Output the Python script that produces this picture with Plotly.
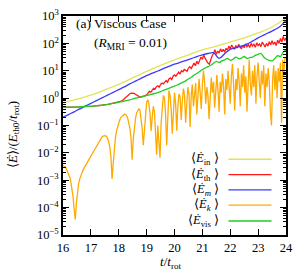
import numpy as np
import plotly.graph_objects as go

# ---- data (values stored as log10 of <E_dot>/(E_th0/t_rot)) ----
t_in = np.linspace(16, 24, 17)          # step 0.5
e_in_log10 = [-0.17, -0.04, 0.11, 0.3, 0.5, 0.74, 0.98, 1.2, 1.4, 1.58, 1.76, 1.9,
              2.05, 2.2, 2.38, 2.6, 2.92]

t_m = np.linspace(16, 24, 41)           # step 0.2
e_m_log10 = [-0.70, -0.60, -0.50, -0.39, -0.29, -0.19, -0.09, 0.01, 0.11, 0.21,
             0.31, 0.41, 0.52, 0.62, 0.72, 0.82, 0.91, 0.99, 1.08, 1.16,
             1.24, 1.31, 1.37, 1.44, 1.52, 1.58, 1.63, 1.66, 1.45, 1.62,
             1.78, 1.84, 1.9, 1.97, 2.08, 2.2, 2.3, 2.4, 2.5, 2.63, 2.84]

t_vis = np.linspace(16, 24, 81)         # step 0.1
e_vis_log10 = [-0.33, -0.33, -0.33, -0.33, -0.33, -0.32, -0.32, -0.31, -0.31, -0.30,
               -0.30, -0.29, -0.28, -0.27, -0.26, -0.25, -0.23, -0.21, -0.19, -0.17,
               -0.15, -0.13, -0.11, -0.08, -0.06, -0.03, 0.0, 0.02, 0.05, 0.07,
               0.1, 0.12, 0.15, 0.17, 0.2, 0.24, 0.28, 0.32, 0.36, 0.4,
               0.44, 0.48, 0.53, 0.58, 0.63, 0.7, 0.76, 0.84, 0.9, 0.97,
               1.04, 1.1, 1.15, 1.2, 1.27, 1.34, 1.3, 1.36, 1.4, 1.45,
               1.38, 1.42, 1.5, 1.44, 1.46, 1.52, 1.45, 1.48, 1.5, 1.56,
               1.6, 1.63, 1.5, 1.42, 1.38, 1.36, 1.45, 1.55, 1.52, 1.68, 1.76]

t_th = np.linspace(16, 24, 161)         # step 0.05
e_th_log10 = [-0.34, -0.34, -0.34, -0.34, -0.34, -0.33, -0.33, -0.33, -0.33, -0.33,
              -0.32, -0.32, -0.32, -0.31, -0.31, -0.31, -0.31, -0.30, -0.30, -0.30,
              -0.30, -0.29, -0.29, -0.28, -0.28, -0.27, -0.27, -0.26, -0.26, -0.25,
              -0.25, -0.24, -0.23, -0.22, -0.21, -0.20, -0.19, -0.18, -0.17, -0.16,
              -0.15, -0.13, -0.11, -0.07, -0.02, 0.04, 0.09, 0.13, 0.16, 0.18,
              0.18, 0.17, 0.14, 0.1, 0.07, 0.05, 0.04, 0.05, 0.07, 0.09,
              0.12, 0.18, 0.25, 0.22, 0.3, 0.36, 0.33, 0.42, 0.45, 0.4,
              0.5, 0.55, 0.52, 0.6, 0.64, 0.58, 0.7, 0.74, 0.68, 0.8,
              0.85, 0.8, 0.9, 0.95, 0.88, 1.0, 0.96, 1.05, 1.02, 0.98,
              1.1, 1.15, 1.08, 1.2, 1.28, 1.18, 1.35, 1.25, 1.4, 1.5,
              1.42, 1.58, 1.45, 1.35, 1.28, 1.24, 1.4, 1.55, 1.62, 1.77,
              1.6, 1.72, 1.65, 1.8, 1.7, 1.78, 1.68, 1.82, 1.75, 1.9,
              1.8, 1.94, 1.85, 1.78, 1.92, 1.83, 1.96, 1.86, 1.8, 1.93,
              1.84, 1.98, 1.88, 1.95, 1.85, 2.0, 1.9, 1.97, 1.86, 2.02,
              1.92, 1.98, 1.88, 2.05, 1.95, 1.87, 2.0, 1.9, 2.06, 1.95,
              2.1, 1.96, 2.05, 1.92, 2.12, 2.0, 2.18, 2.05, 2.25, 2.1, 2.2]

t_k = np.linspace(16, 24, 201)          # step 0.04
e_k_log10 = [-2.45, -2.48, -2.52, -2.58, -2.66, -2.76, -2.88, -3.05, -3.28, -3.6,
             -4.05, -4.43, -3.85, -3.4, -3.12, -2.95, -2.82, -2.72, -2.63, -2.55,
             -2.47, -2.4, -2.33, -2.26, -2.19, -2.12, -2.05, -1.98, -1.9, -1.82,
             -1.74, -1.66, -1.58, -1.52, -1.46, -1.42, -1.39, -1.37, -1.37, -1.4,
             -1.47, -1.6, -1.8, -2.15, -2.95, -2.4, -1.8, -1.45, -1.2, -1.02,
             -0.88, -0.78, -0.7, -0.65, -0.61, -0.59, -0.6, -0.64, -0.73, -0.88,
             -1.1, -1.45, -2.25, -1.5, -1.05, -0.75, -0.55, -0.42, -0.38, -0.45,
             -0.7, -1.1, -1.72, -1.1, -0.5, -0.15, -0.06, -0.2, -0.55, -1.2,
             -0.7, -0.3, -0.5, -1.3, -2.07, -1.0, -1.6, -2.18, -0.9, -0.2,
             0.1, 0.0, -0.6, -1.72, -0.5, 0.28, 0.1, -0.4, -1.3, -0.3,
             0.2, -0.2, -1.19, -0.3, 0.15, 0.05, -0.8, -0.1, 0.35, 0.1,
             -0.9, -0.2, 0.4, 0.15, -1.05, 0.1, 0.5, -0.3, 0.2, 0.55,
             -0.6, 0.3, 0.71, 0.2, -0.4, 0.5, 1.0, 0.6, -0.2, 0.4,
             0.1, -0.77, 0.3, 0.75, 0.2, 0.6, -0.35, 0.5, 0.85, 0.3,
             -0.5, 0.6, 0.2, 0.9, 0.45, -0.6, 0.7, 0.3, 1.0, 0.4,
             -0.2, 0.8, 1.25, 0.5, -0.45, 0.7, 0.3, 1.1, 0.6, -0.3,
             0.9, 0.4, 1.2, 0.2, 0.8, -0.5, 0.9, 1.4, 0.5, 0.1,
             1.0, 0.4, 1.2, -0.2, 0.8, 1.3, 0.6, 0.0, 1.0, 0.5,
             1.2, -0.3, 0.9, 0.4, 1.1, 0.6, -0.5, -1.0, 0.7, 1.2,
             0.3, 1.0, 0.0, 1.1, 0.6, 1.3, -0.9, 1.4, 0.8, 1.5, 1.45]

y_tick_vals = [1e-5, 1e-4, 1e-3, 1e-2, 1e-1, 1e0, 1e1, 1e2, 1e3]
y_tick_text = ["10<sup>−5</sup>", "10<sup>−4</sup>", "10<sup>−3</sup>", "10<sup>−2</sup>",
               "10<sup>−1</sup>", "10<sup>0</sup>", "10<sup>1</sup>", "10<sup>2</sup>",
               "10<sup>3</sup>"]
x_tick_vals = [16, 17, 18, 19, 20, 21, 22, 23, 24]

series = [
    ("in", t_in, e_in_log10, "#e2e25a", "spline"),
    ("th", t_th, e_th_log10, "#ff1a1a", "linear"),
    ("m", t_m, e_m_log10, "#3a3aff", "spline"),
    ("k", t_k, e_k_log10, "#ffaa00", "linear"),
    ("vis", t_vis, e_vis_log10, "#22cc22", "spline"),
]
legend_labels = {
    "in": "⟨<i>Ė</i><sub>in</sub> ⟩",
    "th": "⟨<i>Ė</i><sub>th</sub> ⟩",
    "m": "⟨<i>Ė</i><sub><i>m</i></sub> ⟩",
    "k": "⟨<i>Ė</i><sub><i>k</i></sub> ⟩",
    "vis": "⟨<i>Ė</i><sub>vis</sub> ⟩",
}

FONT = "Liberation Serif"
fig = go.Figure()
for name, t, lv, col, shape in series:
    fig.add_trace(go.Scatter(x=t, y=10 ** np.array(lv), mode="lines",
                             line=dict(color=col, width=1.3, shape=shape),
                             showlegend=False, name=name))

# gnuplot-style key (text left, line sample right)
leg_y = [0.346, 0.276, 0.206, 0.136, 0.064]
for (name, _, _, col, _), yy in zip(series, leg_y):
    fig.add_annotation(x=0.71, y=yy, xref="paper", yref="paper", text=legend_labels[name],
                       showarrow=False, xanchor="right", yanchor="middle",
                       font=dict(family=FONT, size=12.5, color="black"))
    fig.add_shape(type="line", xref="paper", yref="paper", x0=0.742, x1=0.935,
                  y0=yy, y1=yy, line=dict(color=col, width=1.3))

fig.add_annotation(x=0.05, y=0.965, xref="paper", yref="paper", text="(a) Viscous Case",
                   showarrow=False, xanchor="left", yanchor="middle",
                   font=dict(family=FONT, size=13.5, color="black"))
fig.add_annotation(x=0.13, y=0.875, xref="paper", yref="paper",
                   text="(<i>R</i><sub>MRI</sub> = 0.01)",
                   showarrow=False, xanchor="left", yanchor="middle",
                   font=dict(family=FONT, size=13.5, color="black"))
fig.add_annotation(x=-0.225, y=0.46, xref="paper", yref="paper", textangle=-90,
                   text="⟨<i>Ė</i>⟩/(<i>E</i><sub>th0</sub>/<i>t</i><sub>rot</sub>)",
                   showarrow=False, xanchor="center", yanchor="middle",
                   font=dict(family=FONT, size=13, color="black"))
fig.add_annotation(x=0.48, y=-0.125, xref="paper", yref="paper",
                   text="<i>t</i>/<i>t</i><sub>rot</sub>",
                   showarrow=False, xanchor="center", yanchor="middle",
                   font=dict(family=FONT, size=13, color="black"))

axis_common = dict(showline=True, linecolor="black", linewidth=1.5, mirror="ticks",
                   ticks="inside", tickcolor="black", showgrid=False, zeroline=False,
                   tickfont=dict(family=FONT, size=12.5, color="black"))
fig.update_xaxes(range=[16, 24], tickvals=x_tick_vals, ticklen=6, **axis_common)
fig.update_yaxes(type="log", range=[-5, 3], tickvals=y_tick_vals, ticktext=y_tick_text,
                 ticklen=6,
                 minor=dict(ticks="inside", ticklen=3, tickcolor="black", dtick="D1",
                            showgrid=False),
                 **axis_common)
fig.update_layout(width=300, height=274, margin=dict(l=63, r=12, t=7, b=39),
                  paper_bgcolor="white", plot_bgcolor="white",
                  font=dict(family=FONT, size=12, color="black"))
fig.write_html("out.html", config={"displayModeBar": False},
               post_script="document.body.style.margin='0';document.body.style.overflow='hidden';")
